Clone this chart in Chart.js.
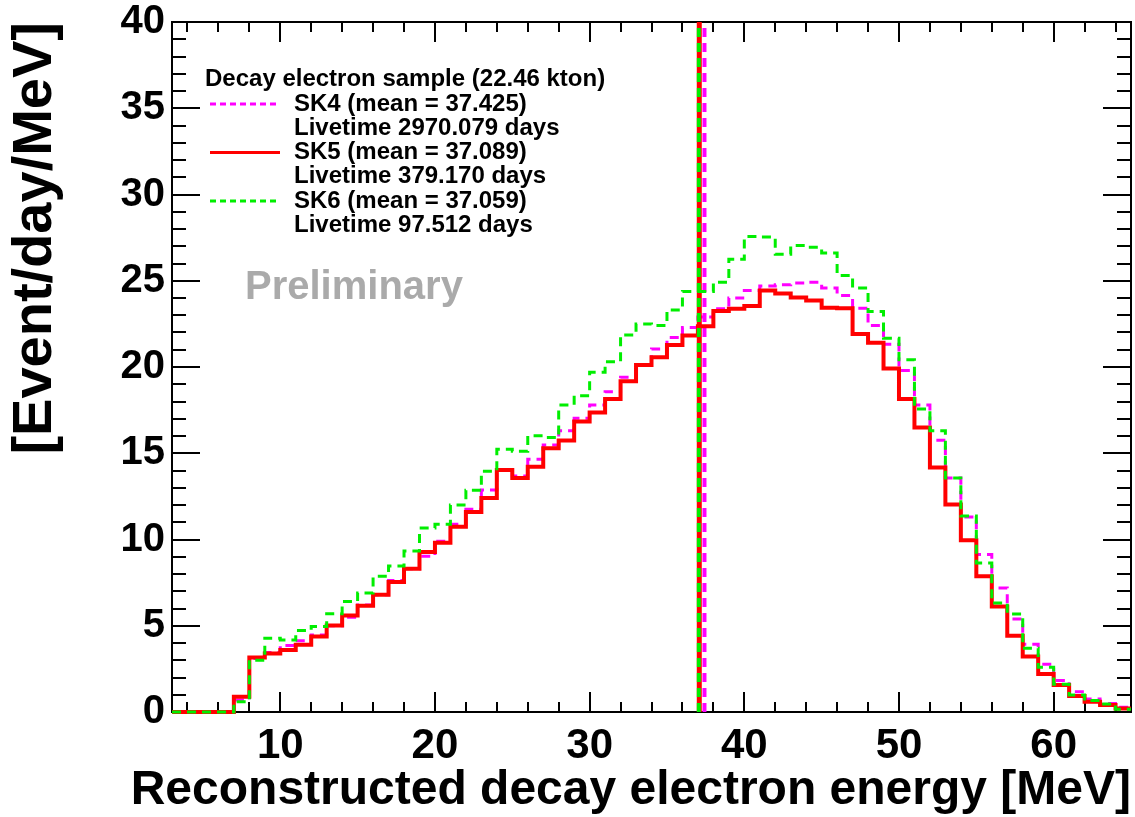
<!DOCTYPE html>
<html>
<head>
<meta charset="utf-8">
<script src="https://cdn.jsdelivr.net/npm/chart.js@4.4.1/dist/chart.umd.min.js"></script>
<style>
  html, body { margin: 0; padding: 0; background: #fff; }
  #wrap { width: 1135px; height: 817px; }
</style>
</head>
<body>
<div id="wrap"><canvas id="energyChart" width="1135" height="817"></canvas></div>
<script>
// --- histogram data (1 MeV bins, values in event/day/MeV) ---
const binLow = [3, 4, 5, 6, 7, 8, 9, 10, 11, 12, 13, 14, 15, 16, 17, 18, 19, 20, 21, 22,
                23, 24, 25, 26, 27, 28, 29, 30, 31, 32, 33, 34, 35, 36, 37, 38, 39, 40, 41, 42,
                43, 44, 45, 46, 47, 48, 49, 50, 51, 52, 53, 54, 55, 56, 57, 58, 59, 60, 61, 62,
                63, 64];
const binHighLast = 65;

const sk4 = [0, 0, 0, 0, 0.70, 3.10, 3.45, 3.86, 4.13, 4.47, 5.00, 5.50, 6.20, 6.80, 7.63, 8.30, 9.03, 9.90, 10.88, 11.75,
             12.87, 14.05, 13.68, 14.65, 15.48, 16.30, 17.03, 17.79, 18.57, 19.40, 20.08, 21.05, 21.71, 22.29, 22.90, 23.37, 24.00, 24.44, 24.69, 24.77,
             24.87, 24.92, 24.58, 24.15, 23.41, 22.40, 21.32, 19.79, 17.79, 15.76, 13.57, 11.30, 9.13, 7.19, 5.39, 3.93, 2.77, 1.82, 1.18, 0.76,
             0.50, 0.27];
const sk5 = [0, 0, 0, 0, 0.89, 3.16, 3.39, 3.59, 3.90, 4.38, 5.02, 5.60, 6.16, 6.80, 7.54, 8.31, 9.28, 9.81, 10.74, 11.60,
             12.40, 14.03, 13.57, 14.22, 15.29, 15.74, 16.84, 17.36, 18.14, 19.17, 20.12, 20.56, 21.28, 21.82, 22.36, 23.24, 23.37, 23.53, 24.44, 24.26,
             24.03, 23.86, 23.43, 23.41, 21.92, 21.40, 19.92, 18.14, 16.49, 14.17, 12.03, 9.96, 7.87, 6.12, 4.42, 3.22, 2.21, 1.57, 0.93, 0.60,
             0.41, 0.21];
const sk6 = [0, 0, 0, 0, 0.60, 3.00, 4.28, 4.18, 4.73, 4.96, 5.70, 6.41, 6.90, 7.87, 8.47, 9.34, 10.66, 10.89, 12.00, 12.85,
             13.95, 15.23, 15.12, 16.01, 15.91, 17.79, 18.33, 19.69, 20.31, 21.86, 22.50, 22.40, 23.31, 24.38, 24.38, 24.92, 26.24, 27.56, 27.53, 26.53,
             27.05, 26.94, 26.61, 25.31, 24.58, 23.22, 21.67, 20.42, 17.56, 16.30, 13.57, 11.36, 8.64, 6.32, 5.68, 3.70, 2.60, 1.61, 0.99, 0.66,
             0.47, 0.16];

const meanSK4 = 37.425;
const meanSK5 = 37.089;
const meanSK6 = 37.059;

const xTicks = [10, 20, 30, 40, 50, 60];
const yTicks = [0, 5, 10, 15, 20, 25, 30, 35, 40];

const xTitle = 'Reconstructed decay electron energy [MeV]';
const legendTitle = 'Decay electron sample (22.46 kton)';
const legendRows = [
  { label: 'SK4 (mean = 37.425)', live: 'Livetime 2970.079 days', color: '#ff00ff', dash: [6, 4] },
  { label: 'SK5 (mean = 37.089)', live: 'Livetime 379.170 days', color: '#ff0000', dash: [] },
  { label: 'SK6 (mean = 37.059)', live: 'Livetime 97.512 days', color: '#00ee00', dash: [6, 4] }
];

const FONT = '"Liberation Sans", Arial, Helvetica, sans-serif';

// step histogram: one point per low edge, then the closing upper edge
function histPoints(values) {
  const pts = binLow.map((e, i) => ({ x: e, y: values[i] }));
  pts.push({ x: binHighLast, y: values[values.length - 1] });
  return pts;
}

function meanLine(m) {
  return [{ x: m, y: 0 }, { x: m, y: 40 }];
}

// ROOT-like frame with inner ticks on all four sides
const frameTicks = {
  id: 'frameTicks',
  beforeDatasetsDraw(chart) {
    const { ctx, chartArea: a, scales } = chart;
    const xs = scales.x, ys = scales.y;
    ctx.save();
    ctx.strokeStyle = '#000';
    ctx.lineWidth = 2;
    ctx.strokeRect(a.left, a.top, a.right - a.left, a.bottom - a.top);

    ctx.beginPath();
    for (let v = 4; v <= 64; v += 2) {
      const px = Math.round(xs.getPixelForValue(v));
      const len = (v % 10 === 0) ? 20 : 10;
      ctx.moveTo(px, a.bottom); ctx.lineTo(px, a.bottom - len);
      ctx.moveTo(px, a.top); ctx.lineTo(px, a.top + len);
    }
    for (let v = 1; v < 40; v++) {
      const py = Math.round(ys.getPixelForValue(v));
      const len = (v % 5 === 0) ? 28 : 14;
      ctx.moveTo(a.left, py); ctx.lineTo(a.left + len, py);
      ctx.moveTo(a.right, py); ctx.lineTo(a.right - len, py);
    }
    ctx.stroke();

    ctx.fillStyle = '#aaaaaa';
    ctx.font = 'bold 40px ' + FONT;
    ctx.textBaseline = 'middle';
    ctx.fillText('Preliminary', 245, 288);
    ctx.restore();
  },
  afterDraw(chart) {
    const { ctx, chartArea: a } = chart;
    ctx.save();
    ctx.fillStyle = '#000';
    ctx.font = 'bold 24px ' + FONT;
    ctx.textBaseline = 'middle';
    ctx.fillText(legendTitle, 205, 79);
    legendRows.forEach((r, i) => {
      const y = 104 + i * 48.5;
      ctx.fillStyle = '#000';
      ctx.fillText(r.label, 294, y);
      ctx.fillText(r.live, 294, y + 24);
      ctx.strokeStyle = r.color;
      ctx.lineWidth = 3;
      ctx.setLineDash(r.dash);
      ctx.beginPath();
      ctx.moveTo(210, y);
      ctx.lineTo(280, y);
      ctx.stroke();
      ctx.setLineDash([]);
    });

    // x title, right aligned to the frame and wider than the plot area
    ctx.fillStyle = '#000';
    ctx.font = 'bold 48px ' + FONT;
    ctx.textAlign = 'right';
    ctx.textBaseline = 'middle';
    ctx.fillText(xTitle, a.right, 791);
    ctx.restore();
  }
};

const ctx = document.getElementById('energyChart').getContext('2d');
new Chart(ctx, {
  type: 'line',
  data: {
    datasets: [
      { data: meanLine(meanSK6), borderColor: '#00ee00', borderWidth: 4, borderDash: [9, 6], order: 0 },
      { data: histPoints(sk6), borderColor: '#00ee00', borderWidth: 3, borderDash: [9, 6], stepped: true, order: 1 },
      { data: meanLine(meanSK5), borderColor: '#ff0000', borderWidth: 5, order: 2 },
      { data: histPoints(sk5), borderColor: '#ff0000', borderWidth: 4, stepped: true, order: 2 },
      { data: meanLine(meanSK4), borderColor: '#ff00ff', borderWidth: 4, borderDash: [9, 6], order: 3 },
      { data: histPoints(sk4), borderColor: '#ff00ff', borderWidth: 3, borderDash: [9, 6], stepped: true, order: 3 }
    ]
  },
  options: {
    responsive: false,
    animation: false,
    devicePixelRatio: 1,
    layout: { padding: { top: 22, right: 4, left: 0, bottom: 0 } },
    elements: { point: { radius: 0 }, line: { tension: 0, fill: false } },
    datasets: { line: { clip: 4 } },
    plugins: { legend: { display: false }, tooltip: { enabled: false } },
    scales: {
      x: {
        type: 'linear',
        min: 3,
        max: 65,
        grid: { display: false, drawTicks: false },
        border: { display: false },
        afterBuildTicks: s => { s.ticks = xTicks.map(v => ({ value: v })); },
        afterFit: s => { s.height = 105; },
        ticks: { color: '#000', font: { family: FONT, size: 42, weight: 'bold', lineHeight: 1 }, padding: 13, maxRotation: 0, autoSkip: false },
        title: { display: false }
      },
      y: {
        min: 0,
        max: 40,
        grid: { display: false, drawTicks: false },
        border: { display: false },
        afterBuildTicks: s => { s.ticks = yTicks.map(v => ({ value: v })); },
        afterFit: s => { s.width = 172; },
        ticks: { color: '#000', font: { family: FONT, size: 40, weight: 'bold', lineHeight: 0.5 }, padding: 7 },
        title: {
          display: true, text: '[Event/day/MeV]', align: 'end', color: '#000',
          font: { family: FONT, size: 56, weight: 'bold', lineHeight: 1 }, padding: { top: 8, bottom: 0 }
        }
      }
    }
  },
  plugins: [frameTicks]
});
</script>
</body>
</html>
